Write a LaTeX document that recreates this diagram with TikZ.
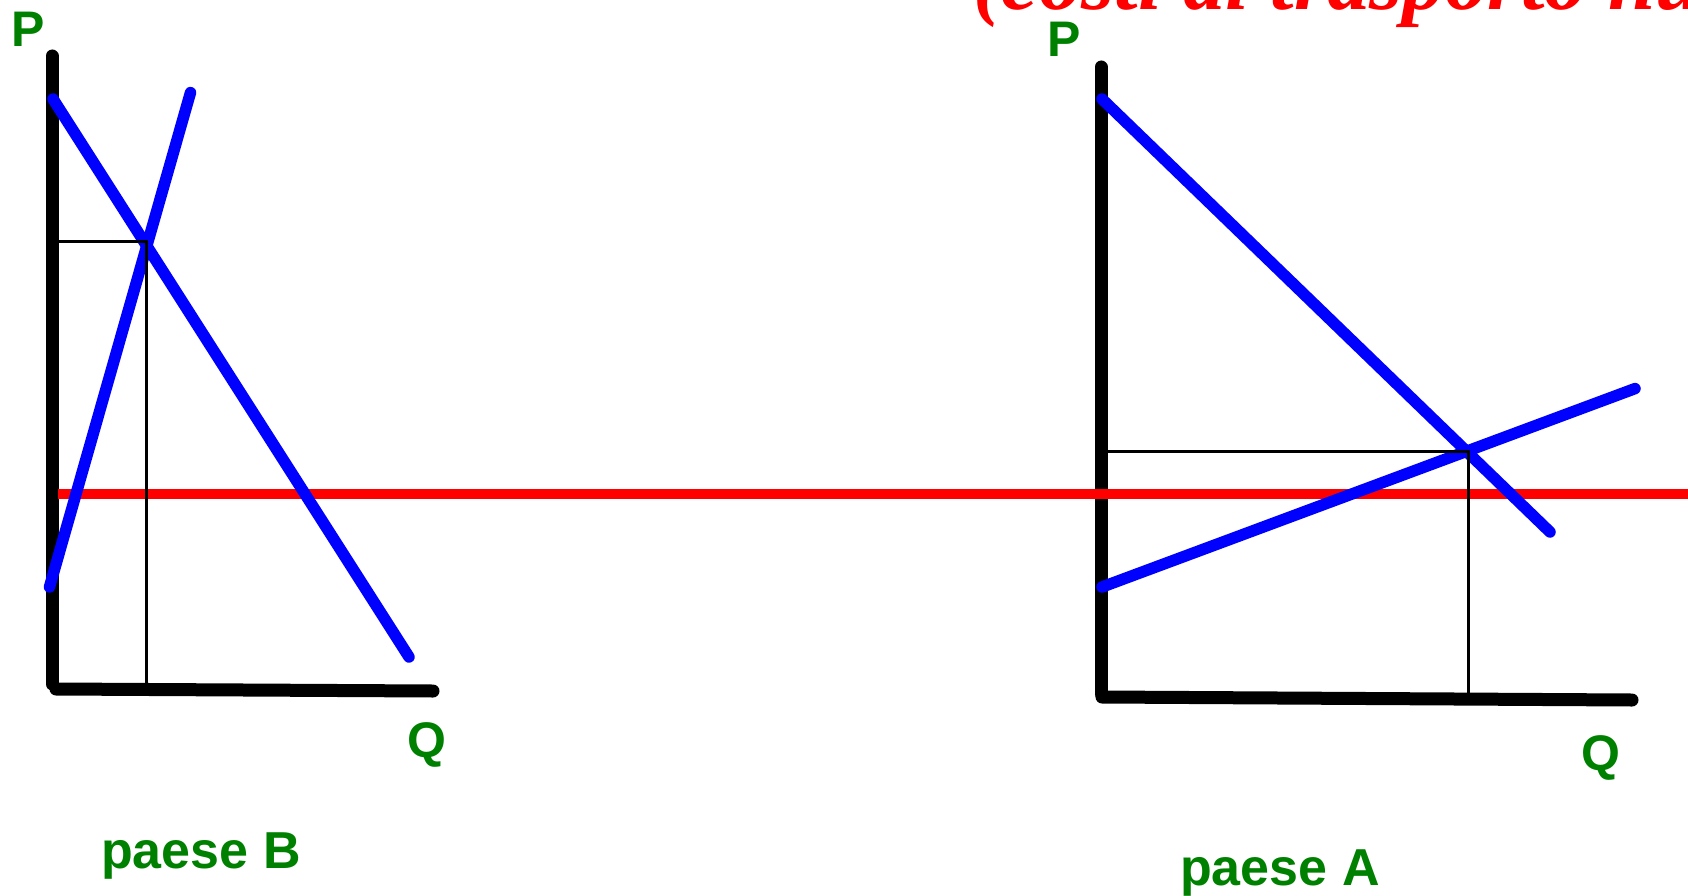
\documentclass[tikz,border=0pt]{standalone}
\usepackage{fontspec}
\setmainfont{Liberation Sans}
\newfontfamily\titlefont{Liberation Serif}
\definecolor{labelgreen}{RGB}{0,128,0}
\definecolor{curveblue}{RGB}{0,0,255}
\definecolor{pricered}{RGB}{255,0,0}
\begin{document}
\begin{tikzpicture}[x=1pt,y=-1pt,
  axisline/.style={line width=13pt, line cap=round, black},
  curveline/.style={line width=11.5pt, line cap=round, draw=curveblue},
  guideline/.style={line width=3pt, black},
  priceline/.style={line width=10.5pt, draw=pricered},
  lbl/.style={text=labelgreen, font=\fontsize{50}{60}\selectfont\bfseries, inner sep=0pt, anchor=base west},
  namelbl/.style={lbl, font=\fontsize{52}{62}\selectfont\bfseries},
  titlelbl/.style={text=pricered, font=\titlefont\fontsize{85}{100}\selectfont\bfseries\itshape, inner sep=0pt, anchor=base west}]
\useasboundingbox (0,0) rectangle (1688,896);

% ---------- left chart (paese B) ----------
\coordinate (bYtop) at (52,56);
\coordinate (bYbot) at (52,684);
\coordinate (bXl) at (56,689);
\coordinate (bXr) at (433,691);
\coordinate (bD1) at (53,99);
\coordinate (bD2) at (409,657);
\coordinate (bS1) at (49.5,587);
\coordinate (bS2) at (190.5,92.6);
\coordinate (bEq) at (146,241);
\coordinate (bPax) at (56,241);
\coordinate (bQax) at (146,685);

% ---------- right chart (paese A) ----------
\coordinate (aYtop) at (1101,67);
\coordinate (aYbot) at (1101,694);
\coordinate (aXl) at (1102,697);
\coordinate (aXr) at (1632,700);
\coordinate (aD1) at (1102,99);
\coordinate (aD2) at (1550,532);
\coordinate (aS1) at (1102,587);
\coordinate (aS2) at (1635,388.6);
\coordinate (aEq) at (1468,451);
\coordinate (aPax) at (1105,451);
\coordinate (aQax) at (1468,695);

% world price line
\coordinate (rL) at (58,494);
\coordinate (rR) at (1688,494);

% axes
\draw[axisline] (bYtop) -- (bYbot);
\draw[axisline] (bXl) -- (bXr);
\draw[axisline] (aYtop) -- (aYbot);
\draw[axisline] (aXl) -- (aXr);

% price line
\draw[priceline] (rL) -- (rR);

% curves
\draw[curveline] (bD1) -- (bD2);
\draw[curveline] (bS1) -- (bS2);
\draw[curveline] (aD1) -- (aD2);
\draw[curveline] (aS1) -- (aS2);

% guides
\draw[guideline] (bPax) -- (bEq) -- (bQax);
\draw[guideline] (aPax) -- (aEq) -- (aQax);

% labels
\node[lbl] (bP) at (11,47) {P};
\node[lbl] (bQ) at (407,757) {Q};
\node[namelbl] (bName) at (101,868) {paese B};
\node[lbl] (aP) at (1047,57) {P};
\node[lbl] (aQ) at (1581,770) {Q};
\node[namelbl] (aName) at (1180,885) {paese A};

\node[titlelbl] (title) at (973,10) {(costi di trasporto nu};
\end{tikzpicture}
\end{document}
